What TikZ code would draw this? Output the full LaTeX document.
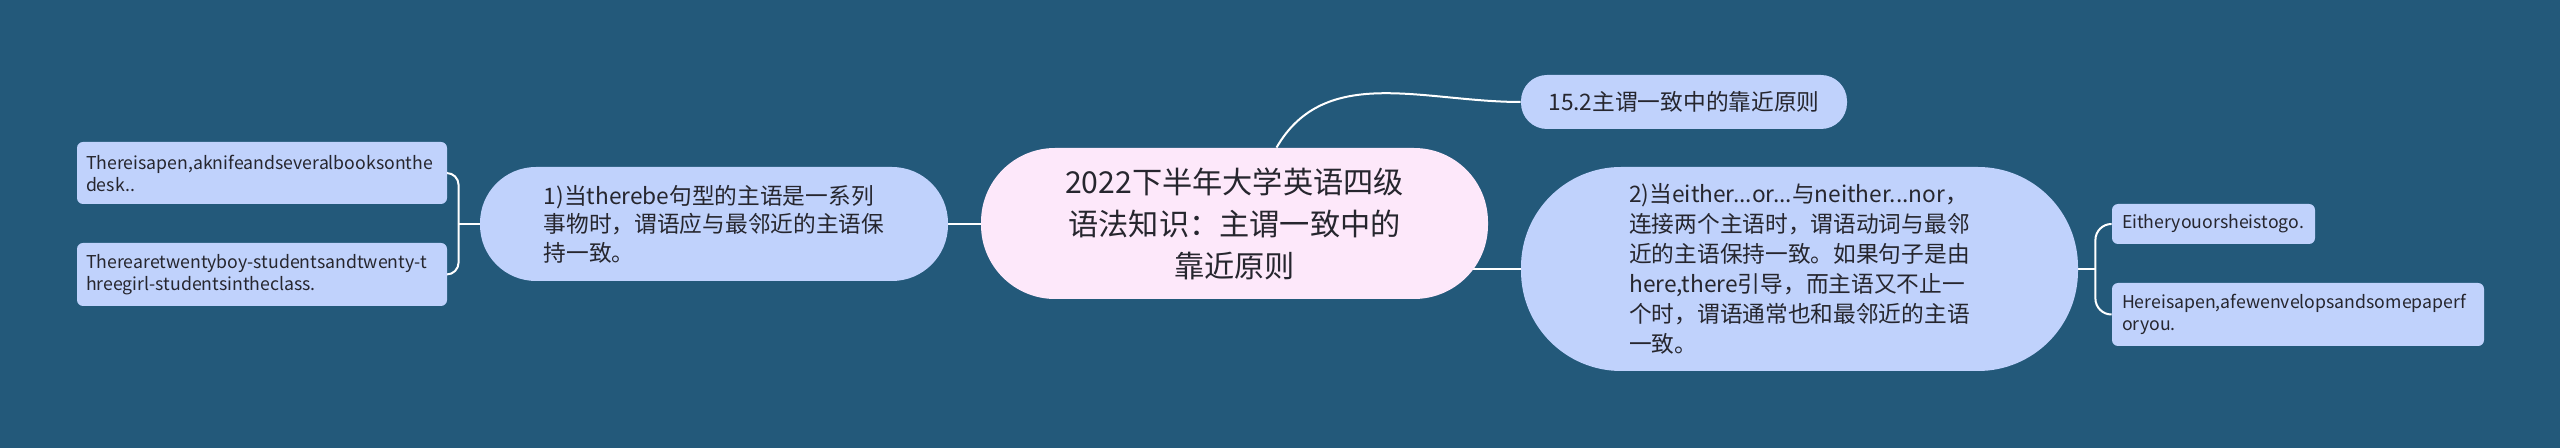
\documentclass[tikz,border=0pt]{standalone}
\usepackage{fontspec}
\setmainfont{Noto Sans CJK SC}
\usepackage{tikz}
\usetikzlibrary{calc}
\hyphenpenalty=10000
\definecolor{bgblue}{RGB}{35,89,122}
\definecolor{pinkfill}{RGB}{253,232,250}
\definecolor{bluefill}{RGB}{192,210,252}
\definecolor{inktext}{RGB}{38,38,46}
\pgfdeclarelayer{bg}
\pgfdeclarelayer{links}
\pgfsetlayers{bg,links,main}
\tikzset{
  topic/.style={fill=pinkfill, text=inktext, align=center, inner sep=0pt,
    rounded corners=37pt, minimum width=253.5pt, minimum height=75.5pt,
    font=\fontsize{15.1pt}{21pt}\selectfont},
  branch/.style={fill=bluefill, text=inktext, align=left, inner sep=0pt,
    font=\fontsize{11.35pt}{14.3pt}\selectfont},
  leaf/.style={fill=bluefill, text=inktext, align=left, inner xsep=4.5pt, inner ysep=0pt,
    rounded corners=3pt, font=\fontsize{8.85pt}{11pt}\selectfont},
  link/.style={draw=white, line width=1pt},
}

\begin{document}
\begin{tikzpicture}[x=0.5pt, y=-0.5pt]
  \useasboundingbox (0, 0) rectangle (2560, 448);
  \begin{pgfonlayer}{bg}
    \fill[bgblue] (0, 0) rectangle (2560, 448);
  \end{pgfonlayer}

  \node[topic] at (1234.5, 223.5) (ctr) {2022下半年大学英语四级\\语法知识：主谓一致中的\\靠近原则};

  \node[branch, rounded corners=28pt, minimum width=234pt, minimum height=57pt]
    at (714, 224) (lbr) {1)当therebe句型的主语是一系列\\事物时，谓语应与最邻近的主语保\\持一致。};
  \node[branch, rounded corners=13pt, minimum width=163pt, minimum height=27pt]
    at (1684, 102) (top) {15.2主谓一致中的靠近原则};
  \node[branch, rounded corners=50pt, minimum width=278.5pt, minimum height=102pt,
    font=\fontsize{11.35pt}{15pt}\selectfont]
    at (1799.5, 269) (rbr) {2)当either...or...与neither...nor，\\连接两个主语时，谓语动词与最邻\\近的主语保持一致。如果句子是由\\here,there引导，而主语又不止一\\个时，谓语通常也和最邻近的主语\\一致。};

  \node[leaf, text width=176pt, minimum height=31pt] at (262, 173) (ll1)
    {Thereisapen,aknifeandseveralbooksonthe\\desk..};
  \node[leaf, text width=176pt, minimum height=31.5pt] at (262, 274.5) (ll2)
    {Therearetwentyboy-studentsandtwenty-t\\hreegirl-studentsintheclass.};
  \node[leaf, inner xsep=5pt, text width=91.5pt, minimum height=20pt] at (2213.5, 224) (rl1)
    {Eitheryouorsheistogo.};
  \node[leaf, inner xsep=5pt, text width=176pt, minimum height=31.5pt] at (2298, 314.5) (rl2)
    {Hereisapen,afewenvelopsandsomepaperf\\oryou.};

  \begin{pgfonlayer}{links}
    \coordinate (ctop) at ([xshift=21pt]ctr.north);
    \coordinate (lj) at ([xshift=-10.5pt]lbr.west);
    \coordinate (rj) at ([xshift=8.5pt]rbr.east);

    \draw[link] (lbr.east) -- (lbr.east -| ctr.center);
    \draw[link] (ctop) to[out=60, in=180] (top.west);
    \draw[link] (rbr.west) -- (rbr.west -| ctr.center);

    \draw[link] (lbr.west) -- (lj);
    \draw[link, rounded corners=6pt] (ll1.east) -| (lj) |- (ll2.east);
    \draw[link] (rbr.east) -- (rj);
    \draw[link, rounded corners=8pt] (rl1.west) -| (rj) |- (rl2.west);
  \end{pgfonlayer}
\end{tikzpicture}
\end{document}
